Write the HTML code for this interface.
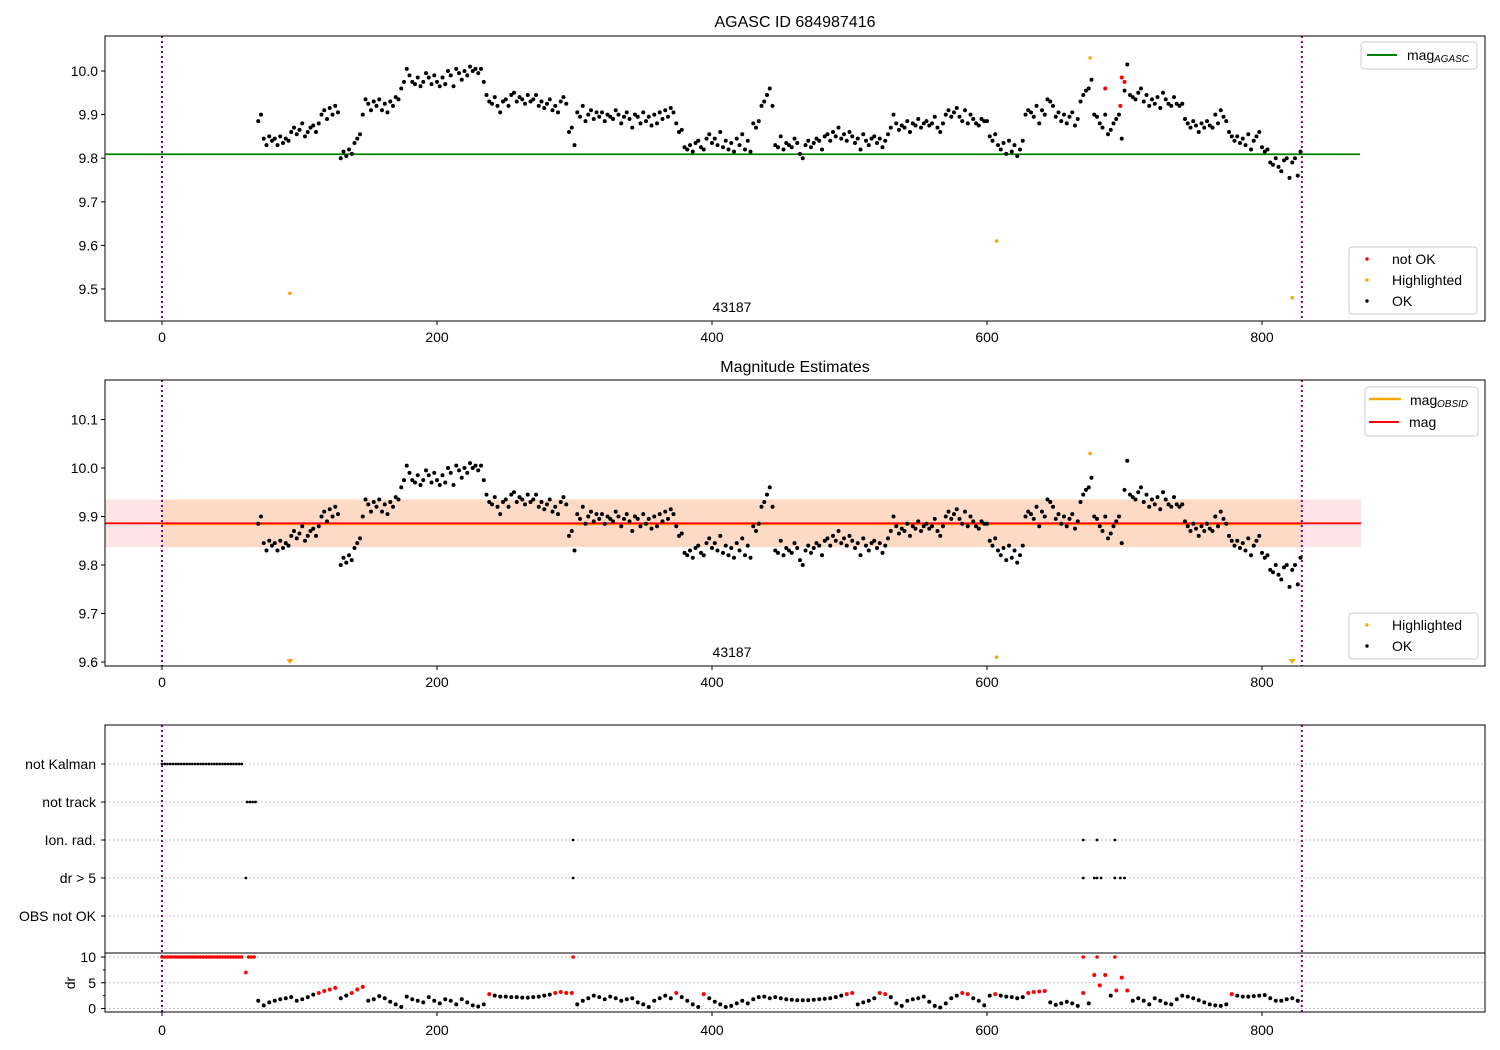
<!DOCTYPE html>
<html><head><meta charset="utf-8"><style>
body{margin:0;background:#fff}
svg{display:block;font-family:"Liberation Sans","DejaVu Sans",sans-serif}
</style></head><body>
<svg id="c" width="1500" height="1050" viewBox="0 0 1500 1050"></svg>
<script>
// ---- data ----
const tStart = 70, tStep = 2;
const magOK = [885,900,845,830,850, 840,845,830,850,835, 845,840,860,870,855, 865,880,850,860,870,
875,860,880,900,910, 890,915,900,920,905, 800,815,805,820,810, 835,845,855,900,935,
925,910,930,920,935, 910,925,905,930,920, 940,935,960,975,1005, 990,975,970,985,965,
975,995,985,970,990, 975,965,985,970,1000, 990,965,1005,995,980, 1000,990,1010,1000,1005,
995,1005,975,945,930, 925,940,920,905,930, 935,920,945,950,930, 940,935,925,945,930,
935,945,920,930,915, 925,935,910,920,905, 930,940,925,860,870, 830,905,895,920,885,
900,910,890,905,895, 905,885,900,895,890, 910,900,880,895,905, 890,870,900,895,880,
905,885,895,875,900, 880,905,890,910,895, 915,905,880,860,865, 825,820,830,815,835,
840,825,820,845,855, 835,845,830,860,825, 840,820,835,815,845, 830,855,820,840,815,
880,870,885,920,930, 945,960,920,830,825, 850,820,835,830,825, 845,835,810,800,830,
840,825,835,845,840, 820,850,855,840,860, 850,870,845,855,840, 860,850,835,845,820,
855,840,830,845,850, 835,845,825,840,855, 870,900,880,865,875, 870,885,860,880,875,
890,870,880,885,875, 880,895,870,860,880, 900,910,895,905,915, 895,885,910,880,900,
890,880,875,890,885, 885,850,840,855,830, 820,835,810,840,815, 830,805,820,840,900,
910,905,895,920,880, 910,900,935,930,920, 895,905,885,900,880, 895,905,875,890,930,
945,955,960,980,900, 895,880,870,900,855, 865,880,890,900,845, 955,1015,945,940,935,
950,960,930,945,920, 935,925,940,915,950, 935,925,920,940,925, 920,925,890,880,870,
885,875,860,880,870, 885,875,870,900,880, 910,895,885,860,850, 840,850,835,845,830,
855,820,840,850,860, 825,815,820,790,785, 800,780,770,795,800, 755,790,800,760,815];
const notOkT = [686, 697, 698, 700];
const notOkMag = [9.96, 9.92, 9.985, 9.975];
const hiT = [93, 607, 675, 822];
const hiMag = [9.49, 9.61, 10.03, 9.48];
const magAgasc = 9.809;
const magObs = 9.886, magErr = 0.049;
const drStart = 70, drStep = 4;
const drVals = [1.5,0.6,1.2,1.5,1.8,2.0,2.2,1.5,1.8,2.2,2.7,3.0,3.4,3.7,4.0,2.0,2.5,3.0,3.7,4.2,1.5,1.8,2.4,2.0,1.3,0.8,0.3,2.3,1.8,1.5,1.2,2.2,1.5,1.0,1.8,1.5,0.8,1.8,1.2,0.6,0.4,0.8,2.8,2.5,2.3,2.3,2.2,2.2,2.1,2.1,2.2,2.3,2.5,2.7,3.0,3.2,3.0,3.0,0.8,1.5,2.0,2.5,2.2,1.8,2.3,2.0,1.5,1.8,2.0,1.2,0.8,0.3,1.5,2.0,2.5,2.0,3.0,2.2,1.5,0.8,0.3,2.8,2.0,1.3,0.8,0.3,0.5,1.0,1.5,1.0,1.8,2.2,2.3,2.0,2.2,2.0,1.8,1.7,1.6,1.6,1.6,1.7,1.8,1.9,2.0,2.2,2.5,2.8,3.0,0.8,1.2,1.5,2.0,3.0,2.8,2.2,1.0,0.5,1.5,1.8,2.0,2.3,1.3,0.5,0.2,1.0,2.0,2.5,3.0,2.8,2.0,1.5,0.6,2.5,2.8,2.5,2.3,2.2,2.0,2.2,3.0,3.2,3.3,3.4,1.2,0.7,1.0,1.3,1.0,0.5,3.0,1.0,6.5,4.5,6.5,2.5,3.5,6.0,3.5,1.5,2.0,1.5,0.8,2.0,1.5,1.0,0.8,1.8,2.5,2.3,2.0,1.6,1.2,0.8,0.6,0.5,0.8,2.8,2.5,2.3,2.3,2.4,2.5,2.6,2.0,1.5,1.5,1.8,2.0,1.5];
const drBadT = [0,2,4,6,8,10,12,14,16,18,20,22,24,26,28,30,32,34,36,38,40,42,44,46,48,50,52,54,56,58,61,63,65,67,299,670,680,693];
const drBadV = [10,10,10,10,10,10,10,10,10,10,10,10,10,10,10,10,10,10,10,10,10,10,10,10,10,10,10,10,10,10,7,10,10,10,10,10,10,10];
const flagNames = ["not Kalman","not track","Ion. rad.","dr > 5","OBS not OK"];
const flagKalmanT = [0,2,4,6,8,10,12,14,16,18,20,22,24,26,28,30,32,34,36,38,40,42,44,46,48,50,52,54,56,58];
const flagTrackT = [62,64,66,68];
const flagIonT = [299,670,680,693];
const flagDrT = [61,299,670,678,680,683,693,697,700];
const xTicks = [0,200,400,600,800];
const p1Ticks = [9.5,9.6,9.7,9.8,9.9,10.0];
const p2Ticks = [9.6,9.7,9.8,9.9,10.0,10.1];
const drTicks = [0,5,10];

// ---- axes ----
const X = t => 162 + t*1.375;
const Y1 = m => 71 + (10.0-m)*436;
const Y2 = m => 468 + (10.0-m)*485;
const Yf = i => 764 + i*38;
const Yd = d => 1008.5 - d*5.15;
const NS="http://www.w3.org/2000/svg", svg=document.getElementById('c');
const FS = 14;
function el(tag, at, parent){const e=document.createElementNS(NS,tag);for(const k in at)e.setAttribute(k,at[k]);(parent||svg).appendChild(e);return e;}
function txt(x,y,s,anchor,size,name){const e=el('text',{x:x,y:y,'text-anchor':anchor||'start','font-size':size||FS,fill:'#000'});e.textContent=s;


return e;}
function dot(x,y,c,r,name){const e=el('circle',{cx:x,cy:y,r:r||1.9,fill:c});


return e;}
function frame(y0,y1,name){const e=el('rect',{x:105,y:y0,width:1380,height:y1-y0,fill:'none',stroke:'#000','stroke-width':1});

}
function xAxis(yb,ly){xTicks.forEach(t=>{el('line',{x1:X(t),x2:X(t),y1:yb,y2:yb+4,stroke:'#000'});
txt(X(t),ly,String(t),'middle',FS,'x-tick-label');});}
function vlines(y0,y1){[0,829].forEach(t=>{const l=el('line',{x1:X(t),x2:X(t),y1:y0,y2:y1,stroke:'#800080','stroke-width':2,'stroke-dasharray':'2,3'});

});}
function clipRect(id,y0,y1){const cp=el('clipPath',{id:id});el('rect',{x:105,y:y0,width:1380,height:y1-y0},cp);}

// ===== Panel 1 =====
clipRect('c1',36,321);clipRect('c2',380,666);
txt(795,27,'AGASC ID 684987416','middle',16,'panel1-title');
const g1=el('g',{'clip-path':'url(#c1)'});


const ag=el('line',{x1:105,x2:1360,y1:Y1(magAgasc),y2:Y1(magAgasc),stroke:'#008000','stroke-width':1.8},g1);


magOK.forEach((v,i)=>{g1.appendChild(dot(X(tStart+i*tStep),Y1(9+v/1000),'#000',2,'ok-point'));});
notOkT.forEach((t,i)=>{g1.appendChild(dot(X(t),Y1(notOkMag[i]),'#f00',2,'not-ok-point'));});
hiT.forEach((t,i)=>{g1.appendChild(dot(X(t),Y1(hiMag[i]),'#ffa500',1.8,'highlighted-point'));});
vlines(36,321);
frame(36,321,'panel1-frame');
p1Ticks.forEach(v=>{el('line',{x1:101,x2:105,y1:Y1(v),y2:Y1(v),stroke:'#000'});txt(98,Y1(v)+5,v.toFixed(1),'end',FS,'y-tick-label');});
xAxis(321,342);
txt(732,312,'43187','middle',FS,'obsid-label');
let lg=el('rect',{x:1361,y:42,width:116,height:27,fill:'#fff',stroke:'#ccc',rx:3});


el('line',{x1:1367,x2:1397,y1:55,y2:55,stroke:'#008000','stroke-width':2});
txt(1407,60,'mag','start',FS,'legend-label');
let s=txt(1434,62,'AGASC','start',10,'legend-subscript');s.setAttribute('font-style','italic');
lg=el('rect',{x:1349,y:247,width:128,height:67,fill:'#fff',stroke:'#ccc',rx:3});


[['not OK','#f00',259],['Highlighted','#ffa500',280],['OK','#000',301]].forEach(a=>{dot(1367,a[2],a[1],1.7,'legend-marker');txt(1392,a[2]+5,a[0],'start',FS,'legend-entry');});

// ===== Panel 2 =====
txt(795,372,'Magnitude Estimates','middle',16,'panel2-title');
const g2=el('g',{'clip-path':'url(#c2)'});


const bandP=el('rect',{x:105,y:Y2(magObs+magErr),width:1361-105,height:Y2(magObs-magErr)-Y2(magObs+magErr),fill:'#ffe4e6'},g2);


const bandO=el('rect',{x:X(0),y:Y2(magObs+magErr),width:X(829)-X(0),height:Y2(magObs-magErr)-Y2(magObs+magErr),fill:'#fcdac6'},g2);


el('line',{x1:X(0),x2:X(829),y1:Y2(magObs)+1,y2:Y2(magObs)+1,stroke:'#ffa500','stroke-width':2},g2);
const ml=el('line',{x1:105,x2:1361,y1:Y2(magObs),y2:Y2(magObs),stroke:'#f00','stroke-width':1.8},g2);


magOK.forEach((v,i)=>{g2.appendChild(dot(X(tStart+i*tStep),Y2(9+v/1000),'#000',2,'ok-point'));});
hiT.forEach((t,i)=>{const m=hiMag[i];
if(m<9.592){const x=X(t),y=662;const tri=el('path',{d:`M${x-3.5},${y-3} L${x+3.5},${y-3} L${x},${y+2}Z`,fill:'#ffa500'},g2);

}
else g2.appendChild(dot(X(t),Y2(m),'#ffa500',1.8,'highlighted-point'));});
vlines(380,666);
frame(380,666,'panel2-frame');
p2Ticks.forEach(v=>{el('line',{x1:101,x2:105,y1:Y2(v),y2:Y2(v),stroke:'#000'});txt(98,Y2(v)+5,v.toFixed(1),'end',FS,'y-tick-label');});
xAxis(666,687);
txt(732,657,'43187','middle',FS,'obsid-label');
lg=el('rect',{x:1365,y:387,width:113,height:49,fill:'#fff',stroke:'#ccc',rx:3});


el('line',{x1:1369,x2:1401,y1:399,y2:399,stroke:'#ffa500','stroke-width':2.5});
txt(1410,405,'mag','start',FS,'legend-label');
s=txt(1437,407,'OBSID','start',10,'legend-subscript');s.setAttribute('font-style','italic');
el('line',{x1:1369,x2:1399,y1:422,y2:422,stroke:'#f00','stroke-width':2});
txt(1409,427,'mag','start',FS,'legend-label');
lg=el('rect',{x:1349,y:613,width:129,height:46,fill:'#fff',stroke:'#ccc',rx:3});


[['Highlighted','#ffa500',625],['OK','#000',646]].forEach(a=>{dot(1367,a[2],a[1],1.7,'legend-marker');txt(1392,a[2]+5,a[0],'start',FS,'legend-entry');});

// ===== Panel 3 flags =====
flagNames.forEach((n,i)=>{const g=el('line',{x1:105,x2:1485,y1:Yf(i),y2:Yf(i),stroke:'#b0b0b0','stroke-dasharray':'1.5,2.5'});


el('line',{x1:101,x2:105,y1:Yf(i),y2:Yf(i),stroke:'#000'});
txt(96,Yf(i)+5,n,'end',FS,'flag-label');});
[[flagKalmanT,0],[flagTrackT,1],[flagIonT,2],[flagDrT,3]].forEach(a=>{a[0].forEach(t=>{dot(X(t),Yf(a[1]),'#000',1.4,'flag-point');});});
[0,5,10].forEach(v=>{const g=el('line',{x1:105,x2:1485,y1:Yd(v),y2:Yd(v),stroke:'#b0b0b0','stroke-dasharray':'1.5,2.5'});

});
drTicks.forEach(v=>{el('line',{x1:101,x2:105,y1:Yd(v),y2:Yd(v),stroke:'#000'});txt(96,Yd(v)+5,String(v),'end',FS,'dr-tick-label');});
[2.5,7.5].forEach(v=>el('line',{x1:103,x2:105,y1:Yd(v),y2:Yd(v),stroke:'#000'}));
const dl=txt(70,983,'dr','middle',FS,'dr-axis-title');dl.setAttribute('transform','rotate(-90 70 983)');dl.setAttribute('y',988);
drVals.forEach((v,i)=>{dot(X(drStart+i*drStep),Yd(v),v>=2.8?'#f00':'#000',2,'dr-point');});
drBadT.forEach((t,i)=>{dot(X(t),Yd(drBadV[i]),'#f00',1.8,'dr-bad-point');});
vlines(725,1012);
frame(725,1012,'panel3-frame');
const sep=el('line',{x1:105,x2:1485,y1:953,y2:953,stroke:'#000','stroke-width':1});


xAxis(1012,1035);
</script>
</body></html>
